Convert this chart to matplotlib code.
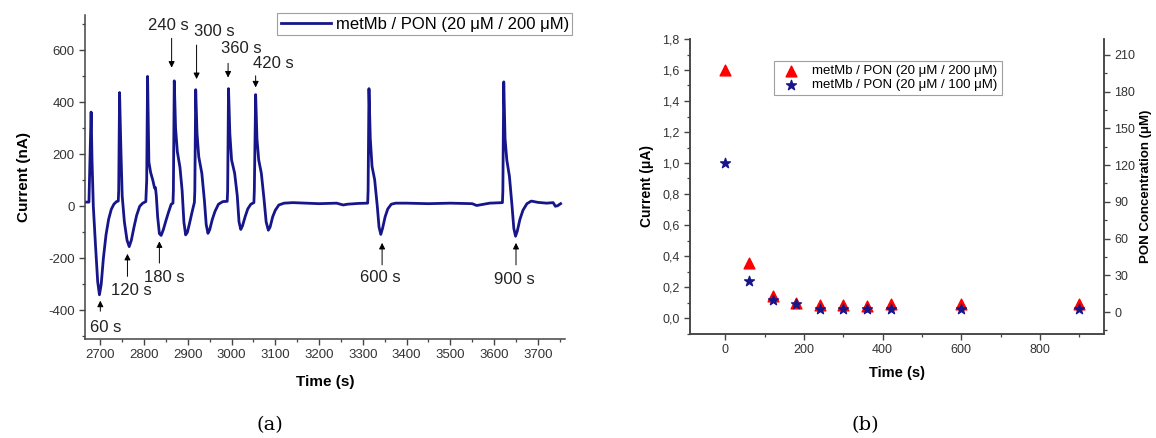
import numpy as np
import matplotlib
matplotlib.use("Agg")
import matplotlib.pyplot as plt
from matplotlib.ticker import MultipleLocator, FuncFormatter

plt.rcParams['font.family'] = ['Liberation Sans', 'DejaVu Sans']
plt.rcParams['axes.unicode_minus'] = False

# ---- panel (a): amperometric trace ----
trace_time = [2666, 2674, 2676, 2679, 2681, 2684, 2689, 2694, 2698, 2702, 2707, 2713, 2719, 2725, 2731, 2737, 2741,
              2742, 2744, 2747, 2750, 2755, 2761, 2766, 2771, 2777, 2783, 2790, 2797, 2804,
              2806, 2808, 2811, 2815, 2820, 2824, 2826, 2828, 2831, 2835, 2839, 2844, 2850, 2856, 2862, 2866,
              2867, 2869, 2872, 2876, 2882, 2887, 2891, 2895, 2899, 2904, 2910, 2915,
              2916, 2918, 2921, 2925, 2932, 2938, 2942, 2946, 2950, 2956, 2962, 2970, 2980, 2990,
              2991, 2993, 2996, 3000, 3007, 3013, 3017, 3021, 3025, 3031, 3037, 3044, 3051,
              3052, 3055, 3058, 3062, 3068, 3074, 3079, 3084, 3088, 3094, 3100, 3108, 3120, 3140, 3170, 3200,
              3240, 3255, 3265, 3290, 3311,
              3312, 3314, 3317, 3321, 3327, 3333, 3337, 3341, 3345, 3351, 3357, 3365, 3375, 3400, 3450, 3500,
              3550, 3560, 3590, 3619,
              3620, 3622, 3625, 3629, 3635, 3641, 3645, 3649, 3653, 3659, 3666, 3675, 3685, 3700, 3720, 3735,
              3740, 3745, 3752]
trace_current = [16, 16, 150, 362, 180, 0, -150, -290, -340, -300, -200, -110, -50, -12, 8, 18, 20,
                 60, 437, 220, 40, -60, -130, -155, -130, -80, -35, 0, 12, 18,
                 100, 499, 170, 130, 100, 70, 72, 40, -40, -105, -112, -90, -55, -22, 8, 12,
                 60, 482, 300, 210, 150, 60, -60, -110, -100, -65, -20, 15,
                 60, 448, 280, 190, 127, 20, -70, -104, -90, -50, -20, 8, 18, 19,
                 60, 452, 280, 178, 127, 40, -60, -89, -75, -40, -10, 8, 14,
                 60, 429, 260, 178, 127, 30, -60, -92, -80, -40, -15, 5, 12, 14, 12, 10,
                 12, 5, 8, 11, 12,
                 60, 452, 260, 153, 102, 0, -80, -108, -85, -40, -10, 8, 12, 12, 10, 12,
                 10, 3, 12, 14,
                 60, 478, 260, 178, 115, 0, -85, -115, -95, -50, -15, 10, 20, 15, 12, 14,
                 0, 2, 10]

# annotations: label, arrow x, arrow tail y, arrow head y, text x, text y
ann_labels = ["60 s", "120 s", "180 s", "240 s", "300 s", "360 s", "420 s", "600 s", "900 s"]
ann_x = [2700, 2762, 2835, 2863, 2920, 2992, 3055, 3344, 3650]
ann_tail = [-414, -280, -229, 656, 630, 560, 512, -236, -236]
ann_head = [-352, -172, -124, 522, 478, 484, 446, -130, -130]
ann_tx = [2713, 2771, 2847, 2856, 2960, 3022, 3095, 3341, 3646]
ann_ty = [-465, -325, -274, 694, 673, 605, 548, -274, -280]

# ---- panel (b): peak current vs time ----
pts_time = [0, 60, 120, 180, 240, 300, 360, 420, 600, 900]
cur_200 = [1.60, 0.355, 0.145, 0.10, 0.086, 0.086, 0.08, 0.09, 0.09, 0.09]
cur_100 = [1.00, 0.24, 0.118, 0.088, 0.058, 0.058, 0.058, 0.058, 0.058, 0.058]

navy = '#16168a'
grey = '#333333'

fig = plt.figure(figsize=(11.56, 4.38), dpi=100)

# panel (a)
ax1 = fig.add_axes([85/1156, 1 - 339/438, (565 - 85)/1156, (339 - 15)/438])
ax1.plot(trace_time, trace_current, color=navy, lw=2.0, label="metMb / PON (20 \u03bcM / 200 \u03bcM)")
ax1.set_xlim(2665, 3762)
ax1.set_ylim(-510, 735)
ax1.xaxis.set_minor_locator(MultipleLocator(50))
ax1.yaxis.set_major_locator(MultipleLocator(200))
ax1.yaxis.set_minor_locator(MultipleLocator(100))
ax1.set_xticks(np.arange(2700, 3701, 100))
for side in ['top', 'right']:
    ax1.spines[side].set_visible(False)
for lab, x, ty, hy, tx, tyy in zip(ann_labels, ann_x, ann_tail, ann_head, ann_tx, ann_ty):
    ax1.annotate("", xy=(x, hy), xytext=(x, ty),
                 arrowprops=dict(arrowstyle='-|>', color='black', lw=0.7, mutation_scale=9))
    ax1.text(tx, tyy, lab, ha='center', va='center', fontsize=12, color='#222222')
leg1 = ax1.legend(loc='upper right', bbox_to_anchor=(1.015, 1.005), fontsize=12, frameon=True,
                  fancybox=False, edgecolor='#888888', handlelength=3.0, borderpad=0.2,
                  handletextpad=0.3, borderaxespad=0)
leg1.get_frame().set_linewidth(0.8)
ax1.set_xlabel("Time (s)", fontsize=11, fontweight='bold', labelpad=10)
ax1.set_ylabel("Current (nA)", fontsize=11, fontweight='bold', labelpad=12)

# panel (b)
ax2 = fig.add_axes([690/1156, 1 - 333.5/438, (1104 - 690)/1156, (333.5 - 39)/438])
ax2.scatter(pts_time, cur_200, marker='^', s=60, color='#ff0000', zorder=3,
            label="metMb / PON (20 \u03bcM / 200 \u03bcM)")
ax2.scatter(pts_time, cur_100, marker='*', s=55, color=navy, zorder=4,
            label="metMb / PON (20 \u03bcM / 100 \u03bcM)")
ax2.set_xlim(-90, 963)
ax2.set_ylim(-0.1, 1.8)
ax2.xaxis.set_minor_locator(MultipleLocator(100))
ax2.set_xticks([0, 200, 400, 600, 800])
ax2.yaxis.set_minor_locator(MultipleLocator(0.1))
ax2.set_yticks(np.arange(0, 1.81, 0.2))
ax2.yaxis.set_major_formatter(FuncFormatter(lambda v, p: f"{v:.1f}".replace('.', ',')))
ax2.spines['top'].set_visible(False)
ax2.set_xlabel("Time (s)", fontsize=10.5, fontweight='bold', labelpad=7)
ax2.set_ylabel("Current (\u03bcA)", fontsize=10, fontweight='bold', labelpad=6)
leg2 = ax2.legend(loc='upper left', bbox_to_anchor=(0.203, 0.925), fontsize=9.5, frameon=True,
                  fancybox=False, edgecolor='#888888', borderpad=0.3, handletextpad=0.6,
                  labelspacing=0.15, borderaxespad=0, scatterpoints=1)
leg2.get_frame().set_linewidth(0.8)

ax3 = ax2.twinx()
ax3.set_ylim(-17.5, 223)
ax3.yaxis.set_minor_locator(MultipleLocator(15))
ax3.set_yticks(np.arange(0, 211, 30))
ax3.spines['top'].set_visible(False)
ax3.set_ylabel("PON Concentration (\u03bcM)", fontsize=9.5, fontweight='bold', labelpad=3)

for ax in (ax1, ax2, ax3):
    for sp in ax.spines.values():
        sp.set_color('#444444')
        sp.set_linewidth(1.1)
    ax.tick_params(which='major', direction='out', length=4, width=1, colors='#444444', labelcolor=grey)
    ax.tick_params(which='minor', direction='out', length=2.5, width=0.9, colors='#444444')
ax1.tick_params(labelsize=9.5)
ax2.tick_params(labelsize=9)
ax3.tick_params(labelsize=9)

fig.text(270/1156, 1 - 425/438, "(a)", ha='center', va='center', fontsize=14, family='DejaVu Serif')
fig.text(865/1156, 1 - 425/438, "(b)", ha='center', va='center', fontsize=14, family='DejaVu Serif')

fig.savefig("out.png", dpi=100)
